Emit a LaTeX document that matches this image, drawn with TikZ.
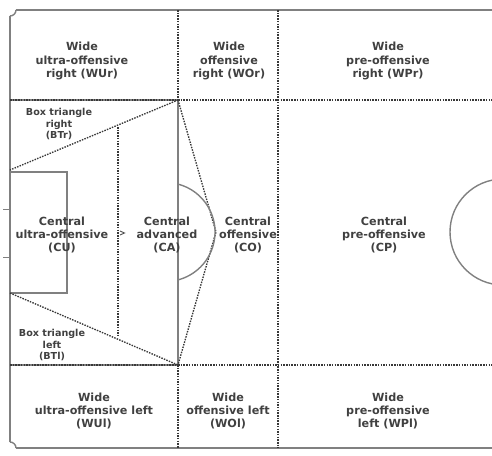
\documentclass[tikz,border=0pt]{standalone}
\usepackage{fontspec}
\setmainfont{DejaVu Sans}
\begin{document}
\begin{tikzpicture}[x=1pt,y=-1pt,
  solidline/.style={draw=black!50, line width=1.4pt},
  dotline/.style={draw=black!78, line width=1.35pt, dash pattern=on 1.5pt off 1.2pt},
  zonelabel/.style={align=center, text=black!75, font=\bfseries\fontsize{11.2}{13.4}\selectfont, inner sep=0pt},
  smalllabel/.style={align=center, text=black!75, font=\bfseries\fontsize{9.6}{11.4}\selectfont, inner sep=0pt}]
\useasboundingbox (0,0) rectangle (492,455);
% key coordinates
\coordinate (tl) at (10,10);
\coordinate (bl) at (10,448);
\coordinate (pt) at (178,100);
\coordinate (pb) at (178,365);
\coordinate (vt) at (216,232);
% outer border
\draw[solidline] (492,10) -- (16,10);
\draw[solidline] (10,16) -- (10,442);
\draw[solidline] (16,448) -- (492,448);
\draw[solidline] (16,10) arc[start angle=0,end angle=90,radius=6];
\draw[solidline] (10,442) arc[start angle=-90,end angle=0,radius=6];
% goal posts ticks
\draw[solidline, line width=1pt] (3,209) -- (10,209);
\draw[solidline, line width=1pt] (3,257) -- (10,257);
% penalty box
\draw[solidline] (10,100) -- (pt) -- (pb) -- (10,365);
\draw[dotline] (10,100) -- (pt);
\draw[dotline] (10,365) -- (pb);
% goal box
\draw[solidline] (10,172) -- (67,172) -- (67,293) -- (10,293);
% horizontal dotted lines
\draw[dotline] (pt) -- (492,100);
\draw[dotline] (pb) -- (492,365);
% vertical dotted lines
\draw[dotline] (178,10) -- (pt);
\draw[dotline] (pb) -- (178,448);
\draw[dotline] (278,10) -- (278,448);
\draw[dotline] (118,127) -- (118,337);
% box triangles
\draw[dotline] (pt) -- (10,170);
\draw[dotline] (10,293) -- (pb);
\draw[dotline] (pt) -- (vt) -- (pb);
% penalty arc
\draw[solidline] (178,184.1) arc[start angle=-75.4,end angle=75.4,radius=49.5];
% penalty spot mark
\draw[black!70, line width=0.9pt] (120,231) -- (124.5,233) -- (120,235);
% centre circle
\begin{scope}
\clip (0,0) rectangle (492,455);
\draw[solidline] (503,232) circle[radius=53];
\end{scope}
% labels
\node[zonelabel] (wur) at (82,61) {Wide\\ultra-offensive\\right (WUr)};
\node[zonelabel] (wor) at (229,61) {Wide\\offensive\\right (WOr)};
\node[zonelabel] (wpr) at (388,61) {Wide\\pre-offensive\\right (WPr)};
\node[smalllabel] (btr) at (59,124) {Box triangle\\right\\(BTr)};
\node[zonelabel] (cu) at (62,235) {Central\\ultra-offensive\\(CU)};
\node[zonelabel] (ca) at (167,235) {Central\\advanced\\(CA)};
\node[zonelabel] (co) at (248,235) {Central\\offensive\\(CO)};
\node[zonelabel] (cp) at (384,235) {Central\\pre-offensive\\(CP)};
\node[smalllabel] (btl) at (52,345) {Box triangle\\left\\(BTl)};
\node[zonelabel] (wul) at (94,411) {Wide\\ultra-offensive left\\(WUl)};
\node[zonelabel] (wol) at (228,411) {Wide\\offensive left\\(WOl)};
\node[zonelabel] (wpl) at (388,411) {Wide\\pre-offensive\\left (WPl)};
\end{tikzpicture}
\end{document}
